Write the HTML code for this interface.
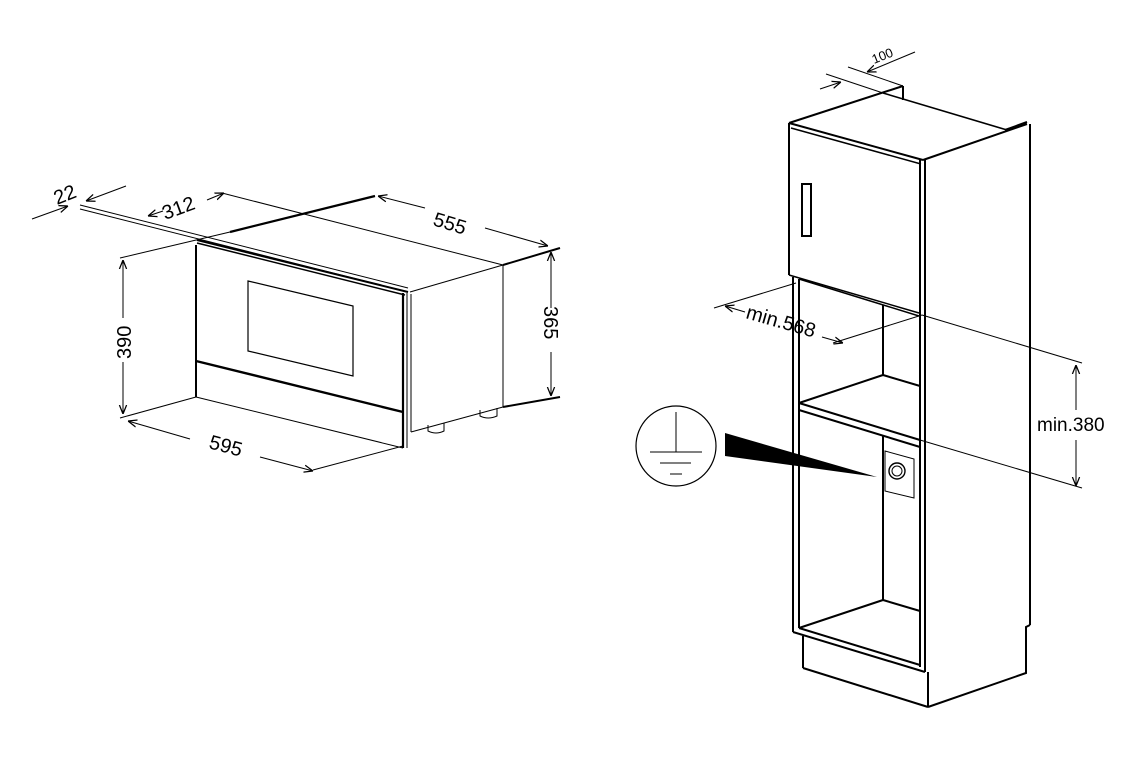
<!DOCTYPE html>
<html><head><meta charset="utf-8"><style>
html,body{margin:0;padding:0;background:#fff;}
svg{display:block;}
text{font-family:"Liberation Sans",Arial,sans-serif;fill:#000;}
</style></head><body>
<svg width="1147" height="782" viewBox="0 0 1147 782" xmlns="http://www.w3.org/2000/svg">
<defs>
<marker id="a" viewBox="0 0 10 10" refX="10" refY="5" markerWidth="9" markerHeight="9" orient="auto-start-reverse" markerUnits="userSpaceOnUse"><path d="M0,1 L10,5 L0,9" fill="none" stroke="#000" stroke-width="1.4"/></marker>
</defs>
<g fill="none" stroke="#000" stroke-width="1">
<line x1="120" y1="258" x2="230" y2="232"/>
<line x1="230" y1="232" x2="375" y2="196" stroke-width="2.2"/>
<line x1="80" y1="205" x2="408" y2="288"/>
<line x1="80" y1="209" x2="408" y2="292"/>
<line x1="197" y1="240" x2="408" y2="292" stroke-width="2"/>
<line x1="197" y1="243" x2="405" y2="295" stroke-width="1.5"/>
<line x1="222" y1="193" x2="503" y2="265"/>
<line x1="503" y1="265" x2="560" y2="248" stroke-width="2"/>
<line x1="196" y1="245" x2="196" y2="397" stroke-width="2"/>
<line x1="403" y1="293" x2="403" y2="448" stroke-width="2.2"/>
<line x1="407" y1="293" x2="407" y2="448"/>
<line x1="196" y1="361" x2="403" y2="412" stroke-width="2.4"/>
<line x1="196" y1="397" x2="403" y2="448"/>
<polygon points="248,281 353,306 353,376 248,351" stroke-width="1.2"/>
<line x1="410" y1="292" x2="503" y2="265"/>
<line x1="503" y1="265" x2="503" y2="407"/>
<line x1="411" y1="294" x2="411" y2="432"/>
<line x1="411" y1="432" x2="503" y2="407"/>
<line x1="503" y1="407" x2="560" y2="397" stroke-width="2"/>
<path d="M428,425 L428,431 Q436,435 444,431 L444,423"/>
<path d="M480,410 L480,416 Q488,420 497,416 L497,408"/>
<line x1="120" y1="418" x2="196" y2="397"/>
<line x1="313" y1="470" x2="403" y2="446"/>
<line x1="123" y1="318" x2="123" y2="260" marker-end="url(#a)"/>
<line x1="123" y1="362" x2="123" y2="414" marker-end="url(#a)"/>
<line x1="551" y1="308" x2="551" y2="252" marker-end="url(#a)"/>
<line x1="551" y1="352" x2="551" y2="396" marker-end="url(#a)"/>
<line x1="190" y1="439" x2="128" y2="421" marker-end="url(#a)"/>
<line x1="260" y1="457" x2="313" y2="471" marker-end="url(#a)"/>
<line x1="425" y1="208" x2="378" y2="196" marker-end="url(#a)"/>
<line x1="485" y1="228" x2="548" y2="246" marker-end="url(#a)"/>
<line x1="163" y1="211" x2="148" y2="216" marker-end="url(#a)"/>
<line x1="207" y1="200" x2="224" y2="193" marker-end="url(#a)"/>
<line x1="32" y1="219" x2="68" y2="206" marker-end="url(#a)"/>
<line x1="126" y1="186" x2="86" y2="201" marker-end="url(#a)"/>

<line x1="789" y1="123" x2="903" y2="86" stroke-width="2"/>
<line x1="903" y1="86" x2="903" y2="100" stroke-width="2"/>
<line x1="883" y1="93" x2="1007" y2="130" stroke-width="1.6"/>
<line x1="923" y1="160" x2="1027" y2="124" stroke-width="2"/>
<line x1="1005" y1="130" x2="1027" y2="122" stroke-width="2"/>
<line x1="1030" y1="124" x2="1030" y2="625" stroke-width="2"/>
<polyline points="1030,625 1026,627 1026,673 928,707" stroke-width="2"/>
<line x1="789" y1="123" x2="789" y2="275" stroke-width="2"/>
<line x1="789" y1="123" x2="923" y2="160" stroke-width="2"/>
<line x1="791" y1="128" x2="921" y2="164" stroke-width="1.5"/>
<rect x="802" y="184" width="9" height="52" stroke-width="2"/>
<line x1="789" y1="275" x2="919" y2="313" stroke-width="1.5"/>
<line x1="799" y1="279" x2="919" y2="316" stroke-width="1.5"/>
<line x1="793" y1="277" x2="793" y2="632" stroke-width="2"/>
<line x1="799" y1="279" x2="799" y2="628" stroke-width="2"/>
<line x1="920" y1="160" x2="920" y2="667" stroke-width="2"/>
<line x1="925" y1="160" x2="925" y2="672" stroke-width="2"/>
<line x1="793" y1="632" x2="925" y2="672" stroke-width="2"/>
<line x1="799" y1="628" x2="920" y2="665" stroke-width="2"/>
<line x1="803" y1="636" x2="803" y2="668" stroke-width="2"/>
<line x1="803" y1="668" x2="928" y2="707" stroke-width="2"/>
<line x1="928" y1="672" x2="928" y2="707" stroke-width="2"/>
<line x1="883" y1="305" x2="883" y2="375" stroke-width="2"/>
<line x1="799" y1="403" x2="883" y2="375" stroke-width="2"/>
<line x1="883" y1="375" x2="920" y2="386" stroke-width="2"/>
<line x1="799" y1="403" x2="920" y2="440" stroke-width="2"/>
<line x1="799" y1="410" x2="920" y2="447" stroke-width="2"/>
<line x1="883" y1="436" x2="883" y2="600" stroke-width="2"/>
<line x1="799" y1="628" x2="883" y2="600" stroke-width="2"/>
<line x1="883" y1="600" x2="920" y2="611" stroke-width="2"/>
<polygon points="885,451 914,459 914,498 885,491"/>
<circle cx="897" cy="471" r="8" stroke-width="1.4"/>
<circle cx="897" cy="471" r="5"/>
<polygon points="725,433 725,456 877,477" fill="#000" stroke="none"/>
<circle cx="676" cy="446" r="40" stroke-width="1.2"/>
<line x1="676" y1="412" x2="676" y2="452"/>
<line x1="650" y1="452" x2="702" y2="452"/>
<line x1="660" y1="463" x2="691" y2="463"/>
<line x1="670" y1="474" x2="682" y2="474"/>
<line x1="714" y1="308" x2="796" y2="283"/>
<line x1="833" y1="343" x2="922" y2="315"/>
<line x1="745" y1="312" x2="725" y2="306" marker-end="url(#a)"/>
<line x1="822" y1="337" x2="843" y2="343" marker-end="url(#a)"/>
<line x1="922" y1="315" x2="1082" y2="363"/>
<line x1="920" y1="440" x2="1082" y2="488"/>
<line x1="1076" y1="410" x2="1076" y2="365" marker-end="url(#a)"/>
<line x1="1076" y1="440" x2="1076" y2="486" marker-end="url(#a)"/>
<line x1="848" y1="67" x2="903" y2="86"/>
<line x1="826" y1="74" x2="883" y2="93"/>
<line x1="915" y1="52" x2="867" y2="72" marker-end="url(#a)"/>
<line x1="820" y1="89" x2="841" y2="82" marker-end="url(#a)"/>
</g>
<text font-size="20" transform="translate(57,205) rotate(-22)">22</text>
<text font-size="20" transform="translate(165,220) rotate(-20)">312</text>
<text font-size="20" transform="translate(432,225) rotate(17)">555</text>
<text font-size="20" transform="translate(208,448) rotate(15)">595</text>
<text font-size="20" transform="translate(131,359) rotate(-90)">390</text>
<text font-size="20" transform="translate(544,306) rotate(90)">365</text>
<text font-size="20" transform="translate(745,318) rotate(16)">min.568</text>
<text x="1037" y="431" font-size="19">min.380</text>
<text font-size="13" transform="translate(874,64) rotate(-22)">100</text>
</svg>
</body></html>
